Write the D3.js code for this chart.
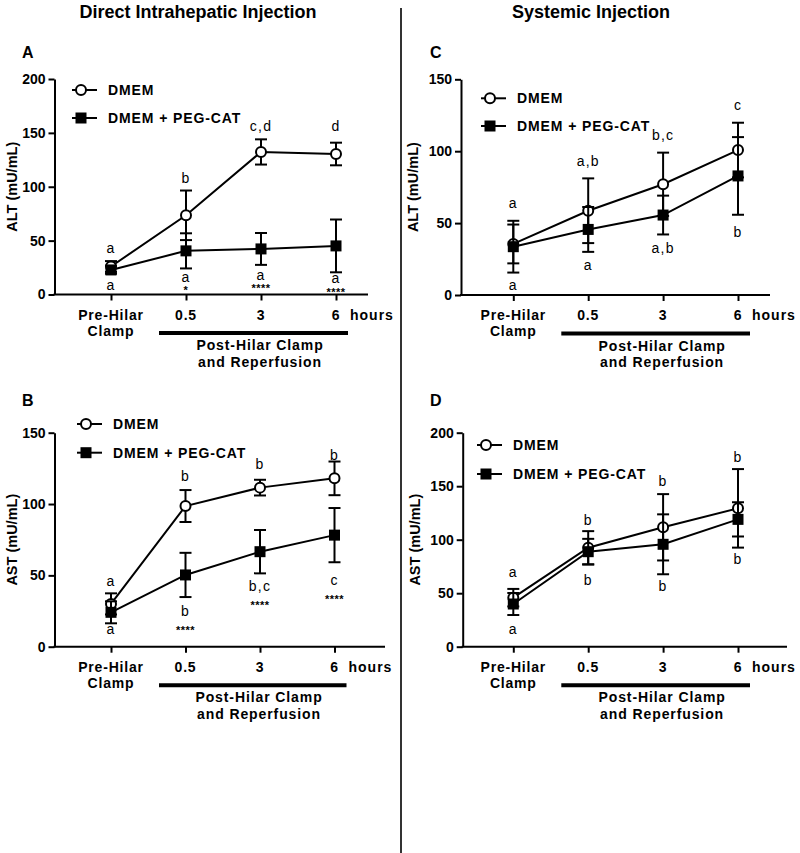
<!DOCTYPE html>
<html><head><meta charset="utf-8">
<script src="https://cdn.jsdelivr.net/npm/d3@7"></script>
<style>body{margin:0;background:#fff} svg{display:block}</style>
</head><body>
<script>
// ---------- data ----------
const categories = ["Pre-Hilar Clamp", "0.5", "3", "6"];
const seriesNames = ["DMEM", "DMEM + PEG-CAT"];
const sectionTitles = ["Direct Intrahepatic Injection", "Systemic Injection"];
const xUnit = "hours";
const groupLabel = ["Post-Hilar Clamp", "and Reperfusion"];

// Panel A – ALT, direct intrahepatic
const altIhTicks = [0, 50, 100, 150, 200];
const altIhDmem = [26, 73.5, 132.3, 130.4];
const altIhDmemErr = [5, 23, 11.7, 10.5];
const altIhPeg = [22.8, 40.5, 42.3, 45.1];
const altIhPegErr = [3.5, 16.3, 14.8, 24.5];
const altIhAbove = ["a", "b", "c,d", "d"];
const altIhAboveAt = [43, 108, 156, 156];
const altIhBelow = ["a", "a", "a", "a"];
const altIhBelowAt = [8.8, 15.6, 17.5, 14.4];
const altIhStars = ["", "*", "****", "****"];
const altIhStarsAt = [0, 6, 8.2, 4.2];

// Panel B – AST, direct intrahepatic
const astIhTicks = [0, 50, 100, 150];
const astIhDmem = [30, 98.6, 111.5, 118];
const astIhDmemErr = [7.4, 11.2, 5.5, 11.8];
const astIhPeg = [24.1, 50.3, 66.6, 78.2];
const astIhPegErr = [7.7, 15.5, 15.2, 19];
const astIhAbove = ["a", "b", "b", "b"];
const astIhAboveAt = [45.5, 119, 128, 134.3];
const astIhBelow = ["a", "b", "b,c", "c"];
const astIhBelowAt = [12.2, 24.5, 42, 46.3];
const astIhStars = ["", "****", "****", "****"];
const astIhStarsAt = [0, 13.3, 30.4, 35];

// Panel C – ALT, systemic
const altSysTicks = [0, 50, 100, 150];
const altSysDmem = [35.5, 58.6, 77, 100.8];
const altSysDmemErr = [13.5, 22.5, 22, 19];
const altSysPeg = [33.6, 45.6, 55.6, 82.8];
const altSysPegErr = [18, 15.6, 13.5, 27];
const altSysAbove = ["a", "a,b", "b,c", "c"];
const altSysAboveAt = [63.3, 92.5, 110.8, 131.6];
const altSysBelow = ["a", "a", "a,b", "b"];
const altSysBelowAt = [6.5, 20.4, 32, 43.3];

// Panel D – AST, systemic
const astSysTicks = [0, 50, 100, 150, 200];
const astSysDmem = [45.8, 92.5, 111.6, 129.3];
const astSysDmemErr = [8.2, 15.5, 31, 36.7];
const astSysPeg = [39.9, 88.8, 95.7, 119];
const astSysPegErr = [10.3, 12, 28, 16];
const astSysAbove = ["a", "b", "b", "b"];
const astSysAboveAt = [69, 117.8, 154, 177];
const astSysBelow = ["a", "b", "b", "b"];
const astSysBelowAt = [16.3, 62.3, 56.7, 81.7];

// ---------- drawing ----------
const W = 800, H = 853;
const FONT = "'Liberation Sans', Arial, Helvetica, sans-serif";
const svg = d3.select("body").append("svg").attr("width", W).attr("height", H)
  .style("font-family", FONT);

// section titles
svg.append("text").attr("x", 198).attr("y", 18).attr("text-anchor", "middle")
  .attr("font-size", 18).attr("font-weight", "bold").text(sectionTitles[0]);
svg.append("text").attr("x", 591).attr("y", 18).attr("text-anchor", "middle")
  .attr("font-size", 18).attr("font-weight", "bold").text(sectionTitles[1]);
// divider
svg.append("line").attr("x1", 401).attr("x2", 401).attr("y1", 8).attr("y2", H)
  .attr("stroke", "#333").attr("stroke-width", 2);

function panel(cfg) {
  const g = svg.append("g");
  const y = d3.scaleLinear().domain([0, cfg.yMax]).range([cfg.yBottom, cfg.yTop]);
  const x = d3.scalePoint().domain(categories).range([cfg.xFirst, cfg.xLast]);

  // panel letter
  g.append("text").attr("x", cfg.letterX).attr("y", cfg.letterY)
    .attr("font-size", 16).attr("font-weight", "bold").text(cfg.letter);

  // y axis
  const ya = g.append("g").attr("transform", `translate(${cfg.axisX},0)`)
    .call(d3.axisLeft(y).tickValues(cfg.ticks).tickSize(6).tickSizeOuter(0).tickPadding(3));
  ya.select(".domain").attr("stroke-width", 2).attr("stroke", "#000");
  ya.selectAll(".tick line").attr("stroke-width", 2);
  ya.selectAll(".tick text").attr("font-size", 14).attr("font-weight", "bold")
    .attr("font-family", FONT).attr("fill", "#000");

  // y label
  g.append("text")
    .attr("transform", `translate(${cfg.axisX - cfg.ylabOff},${(cfg.yTop + cfg.yBottom) / 2}) rotate(-90)`)
    .attr("text-anchor", "middle").attr("dominant-baseline", "middle")
    .attr("font-size", 14.5).attr("font-weight", "bold").text(cfg.ylabel);

  // x axis line + ticks
  g.append("line").attr("x1", cfg.axisX - 1).attr("x2", cfg.axisEnd)
    .attr("y1", cfg.yBottom).attr("y2", cfg.yBottom).attr("stroke", "#000").attr("stroke-width", 2);
  const xa = g.append("g").attr("transform", `translate(0,${cfg.yBottom})`)
    .call(d3.axisBottom(x).tickSize(6).tickSizeOuter(0).tickFormat(""));
  xa.select(".domain").remove();
  xa.selectAll(".tick line").attr("stroke-width", 2);

  // category labels
  categories.forEach((c, i) => {
    const t = g.append("text").attr("x", x(c)).attr("text-anchor", "middle")
      .attr("font-size", 14).attr("font-weight", "bold").attr("letter-spacing", 0.8);
    if (i === 0) {
      const parts = c.split(" ");
      parts.forEach((p, j) => t.append("tspan").attr("x", x(c)).attr("y", cfg.yBottom + 25 + j * 16).text(p));
    } else {
      t.attr("y", cfg.yBottom + 25).text(c);
    }
  });
  g.append("text").attr("x", x(categories[3]) + 14).attr("y", cfg.yBottom + 25)
    .attr("font-size", 14).attr("font-weight", "bold").attr("letter-spacing", 1).text(xUnit);

  // group bar + label
  g.append("line").attr("x1", x(categories[0]) + 48).attr("x2", x(categories[3]) + 12)
    .attr("y1", cfg.yBottom + 38.5).attr("y2", cfg.yBottom + 38.5)
    .attr("stroke", "#000").attr("stroke-width", 4);
  groupLabel.forEach((s, j) => {
    g.append("text").attr("x", x(categories[2]) - 1).attr("y", cfg.yBottom + 55.5 + j * 16.5)
      .attr("text-anchor", "middle").attr("font-size", 14).attr("font-weight", "bold")
      .attr("letter-spacing", 0.9).text(s);
  });

  // series
  const series = [
    { vals: cfg.dmem, err: cfg.dmemErr, type: "circle" },
    { vals: cfg.peg, err: cfg.pegErr, type: "square" }
  ];
  const line = d3.line().x((d, i) => x(categories[i])).y(d => y(d));
  series.forEach(s => {
    const sg = g.append("g");
    s.vals.forEach((v, i) => {
      const cx = x(categories[i]);
      const hi = y(v + s.err[i]), lo = y(v - s.err[i]);
      sg.append("line").attr("x1", cx).attr("x2", cx).attr("y1", hi).attr("y2", lo)
        .attr("stroke", "#000").attr("stroke-width", 2);
      [hi, lo].forEach(yy => sg.append("line").attr("x1", cx - 6).attr("x2", cx + 6)
        .attr("y1", yy).attr("y2", yy).attr("stroke", "#000").attr("stroke-width", 2));
    });
    sg.append("path").attr("d", line(s.vals)).attr("fill", "none")
      .attr("stroke", "#000").attr("stroke-width", 2);
    s.vals.forEach((v, i) => {
      const cx = x(categories[i]), cy = y(v);
      if (s.type === "circle") {
        sg.append("circle").attr("cx", cx).attr("cy", cy).attr("r", 5)
          .attr("fill", "#fff").attr("stroke", "#000").attr("stroke-width", 2);
      } else {
        sg.append("rect").attr("x", cx - 5.5).attr("y", cy - 5.5).attr("width", 11).attr("height", 11)
          .attr("fill", "#000");
      }
    });
  });

  // annotations
  function letters(arr, at) {
    arr.forEach((t, i) => {
      if (!t) return;
      g.append("text").attr("x", x(categories[i])).attr("y", y(at[i]) + 4.5)
        .attr("text-anchor", "middle").attr("font-size", 14).attr("letter-spacing", 1.2).text(t);
    });
  }
  letters(cfg.above, cfg.aboveAt);
  letters(cfg.below, cfg.belowAt);
  if (cfg.stars) {
    cfg.stars.forEach((t, i) => {
      if (!t) return;
      g.append("text").attr("x", x(categories[i])).attr("y", y(cfg.starsAt[i]) + 6)
        .attr("text-anchor", "middle").attr("font-size", 11).attr("font-weight", "bold")
        .attr("letter-spacing", 0.5).text(t);
    });
  }

  // legend
  const lg = g.append("g");
  [cfg.legY1, cfg.legY2].forEach((ly, j) => {
    lg.append("line").attr("x1", cfg.legX).attr("x2", cfg.legX + 25).attr("y1", ly).attr("y2", ly)
      .attr("stroke", "#000").attr("stroke-width", 2);
    if (j === 0) {
      lg.append("circle").attr("cx", cfg.legX + 9).attr("cy", ly).attr("r", 5)
        .attr("fill", "#fff").attr("stroke", "#000").attr("stroke-width", 2);
    } else {
      lg.append("rect").attr("x", cfg.legX + 3.5).attr("y", ly - 5.5).attr("width", 11).attr("height", 11)
        .attr("fill", "#000");
    }
    lg.append("text").attr("x", cfg.legX + 36).attr("y", ly + 5)
      .attr("font-size", 14).attr("font-weight", "bold").attr("letter-spacing", 0.9)
      .text(seriesNames[j]);
  });
}

panel({ letter: "A", letterX: 22, letterY: 58, axisX: 54.5, yTop: 79, yBottom: 294.5, yMax: 200,
  ticks: altIhTicks, xFirst: 111, xLast: 336, axisEnd: 368, ylabel: "ALT (mU/mL)", ylabOff: 41,
  dmem: altIhDmem, dmemErr: altIhDmemErr, peg: altIhPeg, pegErr: altIhPegErr,
  above: altIhAbove, aboveAt: altIhAboveAt, below: altIhBelow, belowAt: altIhBelowAt,
  stars: altIhStars, starsAt: altIhStarsAt, legX: 72, legY1: 90, legY2: 118 });

panel({ letter: "B", letterX: 22, letterY: 406, axisX: 54.5, yTop: 432.7, yBottom: 646.7, yMax: 150,
  ticks: astIhTicks, xFirst: 111, xLast: 334.5, axisEnd: 385, ylabel: "AST (mU/mL)", ylabOff: 41,
  dmem: astIhDmem, dmemErr: astIhDmemErr, peg: astIhPeg, pegErr: astIhPegErr,
  above: astIhAbove, aboveAt: astIhAboveAt, below: astIhBelow, belowAt: astIhBelowAt,
  stars: astIhStars, starsAt: astIhStarsAt, legX: 77, legY1: 424, legY2: 452.7 });

panel({ letter: "C", letterX: 430, letterY: 58, axisX: 461, yTop: 79.3, yBottom: 295, yMax: 150,
  ticks: altSysTicks, xFirst: 513.3, xLast: 738, axisEnd: 770, ylabel: "ALT (mU/mL)", ylabOff: 47,
  dmem: altSysDmem, dmemErr: altSysDmemErr, peg: altSysPeg, pegErr: altSysPegErr,
  above: altSysAbove, aboveAt: altSysAboveAt, below: altSysBelow, belowAt: altSysBelowAt,
  legX: 481, legY1: 98.3, legY2: 126 });

panel({ letter: "D", letterX: 430, letterY: 406, axisX: 462.7, yTop: 432.7, yBottom: 646.7, yMax: 200,
  ticks: astSysTicks, xFirst: 513.3, xLast: 738, axisEnd: 787, ylabel: "AST (mU/mL)", ylabOff: 47,
  dmem: astSysDmem, dmemErr: astSysDmemErr, peg: astSysPeg, pegErr: astSysPegErr,
  above: astSysAbove, aboveAt: astSysAboveAt, below: astSysBelow, belowAt: astSysBelowAt,
  legX: 477, legY1: 445, legY2: 474 });
</script>
</body></html>
